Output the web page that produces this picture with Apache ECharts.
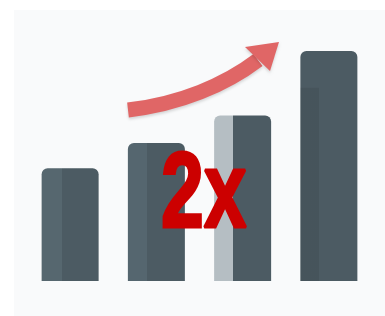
<!DOCTYPE html>
<html>
<head>
<meta charset="utf-8">
<script src="https://cdn.jsdelivr.net/npm/echarts@6/dist/echarts.min.js"></script>
<style>
  html, body { margin: 0; padding: 0; background: #ffffff; }
  #chart { width: 385px; height: 316px; }
</style>
</head>
<body>
<div id="chart"></div>
<script>
// 数据
const categories = ["A", "B", "C", "D"];
const values = [49, 60, 72, 100];
// 第4根柱子下半部分的暗色阴影高度
const shadeValues = [null, null, null, 84];
const label = "2x";

const dark = "#4c5b63";
const barColors = [
    ["#56676f", 0.36, dark],
    ["#55666f", 0.33, dark],
    ["#b5bec3", 0.33, dark],
    [dark, 0.33, dark]
];

// 左右两段硬边渐变
function split(c) {
    return new echarts.graphic.LinearGradient(0, 0, 1, 0, [
        { offset: 0, color: c[0] },
        { offset: c[1], color: c[0] },
        { offset: c[1], color: c[2] },
        { offset: 1, color: c[2] }
    ]);
}

const chart = echarts.init(document.getElementById("chart"));

chart.setOption({
    animation: false,
    backgroundColor: "#ffffff",
    grid: { left: 27, right: 13, top: 51, bottom: 35 },
    xAxis: {
        type: "category",
        data: categories,
        show: false
    },
    yAxis: {
        type: "value",
        min: 0,
        max: 100,
        show: false
    },
    graphic: [
        {
            type: "rect",
            z: -10,
            shape: { x: 14, y: 10, width: 371, height: 306 },
            style: { fill: "#f9fafb" }
        },
        {
            type: "bezierCurve",
            z: 10,
            shape: { x1: 128, y1: 110, x2: 258, y2: 60, cpx1: 180, cpy1: 104, cpx2: 225, cpy2: 85 },
            style: {
                stroke: "#e06666", lineWidth: 15, fill: null,
                shadowColor: "rgba(0,0,0,0.15)", shadowBlur: 3, shadowOffsetY: 2
            }
        },
        {
            type: "polygon",
            z: 10,
            shape: { points: [[245, 47], [279, 42], [270, 71]] },
            style: {
                fill: "#e06666",
                shadowColor: "rgba(0,0,0,0.15)", shadowBlur: 3, shadowOffsetY: 2
            }
        },
        {
            type: "text",
            z: 20,
            x: 161,
            y: 197,
            scaleX: 0.72,
            style: {
                text: label,
                fontFamily: "Liberation Sans",
                fontWeight: "bold",
                fontSize: 107,
                fill: "#cc0000",
                stroke: "#cc0000",
                lineWidth: 3,
                verticalAlign: "middle",
                shadowColor: "rgba(0,0,0,0.35)",
                shadowBlur: 4,
                shadowOffsetX: 1,
                shadowOffsetY: 2
            }
        }
    ],
    series: [
        {
            type: "bar",
            barWidth: 57,
            data: values.map((v, i) => ({
                value: v,
                itemStyle: { color: split(barColors[i]) }
            })),
            itemStyle: { borderRadius: [6, 6, 0, 0] }
        },
        {
            type: "bar",
            barWidth: 57,
            barGap: "-100%",
            data: shadeValues,
            itemStyle: {
                color: new echarts.graphic.LinearGradient(0, 0, 1, 0, [
                    { offset: 0, color: "rgba(0,0,0,0.08)" },
                    { offset: 0.33, color: "rgba(0,0,0,0.08)" },
                    { offset: 0.33, color: "rgba(0,0,0,0)" },
                    { offset: 1, color: "rgba(0,0,0,0)" }
                ])
            }
        }
    ]
});
</script>
</body>
</html>
